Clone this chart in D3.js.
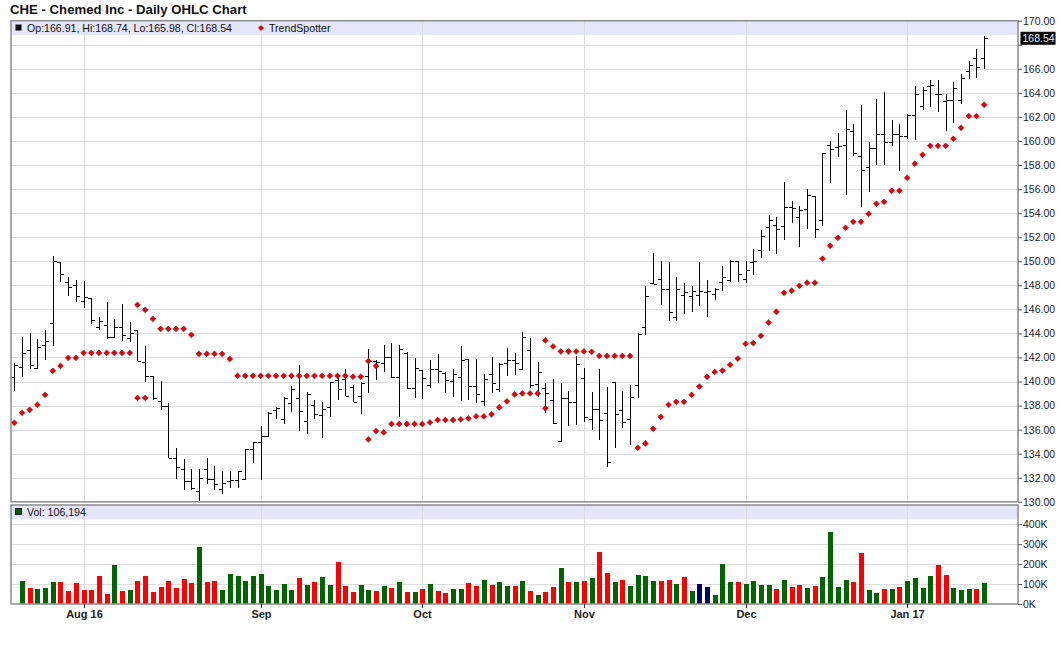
<!DOCTYPE html>
<html>
<head>
<meta charset="utf-8">
<script src="https://cdn.jsdelivr.net/npm/d3@7"></script>
<style>
  body { margin: 0; background: #fff; }
  svg { display: block; font-family: "Liberation Sans", Arial, sans-serif; }
</style>
</head>
<body>
<div id="chart"></div>
<script>
// CHE daily bars, Jul 19 2016 -> Jan 18 2017 (trading day index 0..126)
const opens = [140.39,141.22,142.66,141.14,143.05,144.90,149.97,148.31,148.03,146.73,
146.95,144.57,144.71,143.68,144.57,143.63,144.29,141.63,140.50,138.39,
137.95,133.66,132.74,131.77,130.89,132.74,131.86,131.08,131.72,131.83,
131.91,134.40,134.96,135.51,137.60,136.85,138.18,138.65,136.74,138.04,
137.21,137.91,140.12,140.18,139.51,138.82,140.48,141.70,141.51,142.00,
140.40,142.40,139.43,140.95,139.71,141.01,140.68,140.04,140.34,141.84,
139.62,138.40,140.59,139.35,141.51,141.78,141.01,142.61,139.76,139.43,
138.46,135.05,138.65,138.32,140.26,136.90,137.73,137.40,140.00,137.65,
136.90,139.72,144.57,148.20,148.53,147.70,145.40,147.23,147.15,147.23,
147.48,147.29,148.31,148.48,150.00,148.49,149.93,150.90,152.84,153.03,
152.95,154.53,153.64,154.36,155.39,153.39,159.68,159.51,159.68,160.87,
158.71,157.82,159.43,160.62,159.93,160.54,160.43,162.20,162.87,164.53,
163.92,163.29,163.42,163.42,165.81,166.86,166.91];

const highs = [141.55,143.68,144.04,143.55,144.29,150.47,149.97,148.73,148.45,148.39,
146.95,145.35,146.65,145.21,146.45,144.99,144.29,142.96,140.50,140.08,
138.23,134.49,133.57,132.69,132.74,133.66,132.94,132.55,132.55,132.60,
134.35,135.00,136.34,137.45,137.91,138.74,139.62,141.37,139.10,138.46,
138.32,139.93,140.40,141.01,139.71,139.93,142.70,141.78,143.03,143.17,
143.03,142.48,141.98,140.95,141.78,142.28,140.81,141.01,142.95,141.84,
141.84,140.62,142.06,141.56,142.75,142.34,144.11,143.58,141.65,139.84,
140.18,139.84,139.24,142.12,141.11,139.11,141.00,139.53,140.00,139.20,
139.75,144.02,147.98,150.72,150.00,149.97,148.67,148.20,147.92,149.97,
148.45,147.76,149.64,150.14,150.00,149.98,151.04,152.56,153.86,153.64,
156.55,155.05,154.61,155.97,155.39,159.04,159.96,160.70,162.61,161.37,
162.95,159.90,163.45,164.11,161.78,161.40,162.28,164.61,164.48,165.03,
165.03,163.92,164.89,165.53,166.64,167.61,168.74];

const lows = [139.25,140.36,141.05,141.14,141.75,142.96,148.25,147.09,146.59,146.09,
144.79,144.29,143.55,143.68,143.41,143.27,141.69,139.94,138.48,137.65,
133.66,131.86,131.00,131.00,130.06,131.44,131.00,130.67,131.16,131.16,
131.91,133.21,131.83,135.37,136.85,136.44,137.43,135.88,135.63,136.85,
135.27,137.07,138.46,138.82,138.27,137.27,139.02,140.12,140.81,140.26,
137.07,139.35,138.60,138.54,139.43,139.90,139.07,138.74,138.40,138.46,
138.24,137.96,139.07,139.15,140.45,140.54,141.01,139.43,138.74,137.35,
136.44,135.00,136.33,136.38,136.62,135.93,135.10,132.88,134.46,136.15,
134.76,138.61,143.88,148.12,146.37,145.07,145.01,145.62,145.76,146.32,
145.35,146.81,147.51,148.25,148.25,148.20,148.82,150.26,150.84,150.59,
151.76,153.17,151.17,152.64,151.95,152.97,156.49,158.65,155.50,158.79,
154.50,155.77,158.02,158.02,159.60,157.52,160.20,160.04,162.59,162.81,
162.40,160.80,161.48,163.10,165.19,165.25,165.98];

const closes = [141.41,142.38,141.39,142.91,143.35,150.06,148.95,147.89,147.15,147.06,
145.15,145.07,143.68,144.57,143.88,144.07,141.69,140.50,138.67,137.95,
133.66,132.91,131.77,131.16,132.00,131.86,131.44,131.58,131.83,132.52,
134.35,134.96,135.51,137.37,137.80,138.60,139.40,137.55,138.93,137.30,
137.71,139.93,139.37,138.82,138.30,139.84,141.70,141.59,142.00,140.40,
142.70,139.43,141.09,140.26,141.01,140.90,140.12,140.62,141.78,139.65,
138.96,140.18,139.90,141.45,141.78,141.50,143.72,139.71,140.76,139.07,
136.52,138.65,138.32,141.45,137.07,137.73,136.81,133.35,137.26,136.62,
138.75,143.91,147.15,148.12,147.70,145.82,147.70,147.48,147.55,147.55,
147.55,147.70,148.67,150.00,148.95,149.30,149.98,152.06,153.47,152.70,
154.53,154.40,154.30,155.47,152.64,159.04,159.30,159.60,161.01,159.04,
157.60,159.43,160.62,159.93,160.54,160.43,162.17,163.92,164.25,164.67,
163.92,163.42,164.42,165.25,166.28,166.14,168.54];

// volume in thousands (first day has no bar)
const volumesK = [null,115,80,75,80,110,110,65,105,70,
70,140,50,195,65,70,115,140,60,85,
115,80,125,105,285,110,115,70,150,140,
115,140,150,90,70,100,70,130,95,110,
135,95,210,90,60,95,70,65,90,80,
110,60,60,75,100,65,55,75,75,105,
90,120,95,110,90,90,115,65,45,60,
85,180,110,110,115,130,261,155,110,120,
90,145,140,115,115,120,100,135,65,100,
85,45,200,110,110,100,115,95,95,75,
120,85,95,80,90,135,361,85,120,110,
256,70,55,75,75,85,115,130,80,140,
195,145,80,70,75,75,106.194];

// TrendSpotter dots: below price and above price
const trendLower = [136.57,137.40,137.65,138.06,138.89,140.89,141.30,141.97,141.97,142.38,
142.38,142.38,142.38,142.38,142.38,142.38,138.64,138.64,null,null,
null,null,null,null,null,null,null,null,null,null,
null,null,null,null,null,null,null,null,null,null,
null,null,null,null,null,null,135.19,135.88,135.77,136.47,
136.47,136.47,136.47,136.47,136.60,136.80,136.80,136.80,136.85,136.94,
137.10,137.10,137.27,137.85,138.35,138.93,139.01,139.01,139.01,137.77,
null,null,null,null,null,null,null,null,null,null,
null,134.49,134.85,136.07,137.06,138.06,138.31,138.31,138.89,139.58,
140.39,140.80,140.91,141.39,141.91,143.13,143.20,143.80,144.90,145.80,
147.38,147.55,147.96,148.21,148.21,150.21,151.29,151.95,152.78,153.28,
153.28,153.94,154.78,154.94,155.86,155.86,156.94,158.11,158.85,159.60,
159.60,159.60,160.18,161.10,162.07,162.07,163.01];

const trendUpper = [null,null,null,null,null,null,null,null,null,null,
null,null,null,null,null,null,146.37,145.96,145.21,144.38,
144.38,144.38,144.38,143.88,142.30,142.30,142.30,142.30,141.88,140.47,
140.47,140.47,140.47,140.47,140.47,140.47,140.47,140.47,140.47,140.47,
140.47,140.47,140.47,140.47,140.40,140.40,141.70,141.29,null,null,
null,null,null,null,null,null,null,null,null,null,
null,null,null,null,null,null,null,null,null,143.42,
142.92,142.50,142.50,142.50,142.50,142.47,142.13,142.13,142.13,142.13,
142.13,null,null,null,null,null,null,null,null,null,
null,null,null,null,null,null,null,null,null,null,
null,null,null,null,null,null,null,null,null,null,
null,null,null,null,null,null,null,null,null,null,
null,null,null,null,null,null,null];

const monthTickIdx = [9, 32, 53, 74, 95, 116];
const monthLabels = ["Aug 16", "Sep", "Oct", "Nov", "Dec", "Jan 17"];
const priceTicks = d3.range(130, 171, 2);
const volTicksK = [0, 100, 200, 300, 400];

const width = 1060, height = 645;
const plotLeft = 11, plotRight = 1018;
const priceTop = 20.7, priceBottom = 501.8;
const volTop = 505, volBottom = 604;
const bandH = 14.3;

const svg = d3.select("#chart").append("svg")
    .attr("width", width)
    .attr("height", height);

const x = d3.scaleLinear().domain([-0.43, 130.4]).range([plotLeft, plotRight]);
const y = d3.scaleLinear().domain([130, 170]).range([priceBottom, priceTop]);
const yVol = d3.scaleLinear().domain([0, 400]).range([volBottom, 524.3]);
const px = i => Math.round(x(i)) + 0.5;

// title
svg.append("text")
    .attr("x", 10)
    .attr("y", 13.5)
    .style("font-size", "13.2px")
    .style("font-weight", "bold")
    .style("fill", "#111")
    .text("CHE - Chemed Inc - Daily OHLC Chart");

// legend bands
[priceTop, volTop].forEach(t => {
    svg.append("rect")
        .attr("x", plotLeft).attr("y", t)
        .attr("width", plotRight - plotLeft).attr("height", bandH)
        .attr("fill", "#e6e6fa");
});

// grid
const grid = svg.append("g")
    .attr("stroke", "#dcdcdc")
    .attr("stroke-width", 1)
    .attr("shape-rendering", "crispEdges");

priceTicks.filter(d => d > 130 && d < 170).forEach(d => {
    grid.append("line")
        .attr("x1", plotLeft).attr("x2", plotRight)
        .attr("y1", Math.round(y(d)) + 0.5).attr("y2", Math.round(y(d)) + 0.5);
});
volTicksK.filter(d => d > 0).forEach(d => {
    grid.append("line")
        .attr("x1", plotLeft).attr("x2", plotRight)
        .attr("y1", Math.round(yVol(d)) + 0.5).attr("y2", Math.round(yVol(d)) + 0.5);
});
monthTickIdx.forEach(i => {
    grid.append("line").attr("x1", px(i)).attr("x2", px(i))
        .attr("y1", priceTop).attr("y2", priceBottom);
    grid.append("line").attr("x1", px(i)).attr("x2", px(i))
        .attr("y1", volTop).attr("y2", volBottom);
});

// volume bars, coloured by the day's close against the previous close
const volColor = i => {
    if (i === 0) return "#006400";
    if (closes[i] > closes[i - 1]) return "#006400";
    if (closes[i] < closes[i - 1]) return "#ff0000";
    return "#000066";
};
svg.append("g")
    .attr("shape-rendering", "crispEdges")
    .selectAll("rect")
    .data(volumesK.map((v, i) => ({ v, i })).filter(d => d.v != null))
    .join("rect")
    .attr("x", d => Math.round(x(d.i)) - 2)
    .attr("y", d => yVol(d.v))
    .attr("width", 5)
    .attr("height", d => volBottom - yVol(d.v))
    .attr("fill", d => volColor(d.i));

// OHLC bars
svg.append("g")
    .attr("stroke", "#000")
    .attr("stroke-width", 1)
    .attr("fill", "none")
    .attr("shape-rendering", "crispEdges")
    .selectAll("path")
    .data(d3.range(opens.length))
    .join("path")
    .attr("d", i => {
        const xi = px(i);
        return `M${xi},${y(highs[i])}V${y(lows[i])}` +
            `M${xi - 3.5},${Math.round(y(opens[i])) + 0.5}H${xi}` +
            `M${xi},${Math.round(y(closes[i])) + 0.5}H${xi + 3.5}`;
    });

// TrendSpotter diamonds
const diamond = (cx, cy, r) => `M${cx},${cy - r}L${cx + r},${cy}L${cx},${cy + r}L${cx - r},${cy}Z`;
const trendPts = [];
trendLower.forEach((v, i) => { if (v != null) trendPts.push([i, v]); });
trendUpper.forEach((v, i) => { if (v != null) trendPts.push([i, v]); });
svg.append("g")
    .selectAll("path")
    .data(trendPts)
    .join("path")
    .attr("d", d => diamond(x(d[0]), y(d[1]), 2.9))
    .attr("fill", "#e8000b")
    .attr("stroke", "#9b0000")
    .attr("stroke-width", 0.6);

// panel borders
[[priceTop, priceBottom], [volTop, volBottom]].forEach(([t, b]) => {
    svg.append("rect")
        .attr("x", plotLeft).attr("y", t)
        .attr("width", plotRight - plotLeft).attr("height", b - t)
        .attr("fill", "none")
        .attr("stroke", "#8c8c8c")
        .attr("stroke-width", 1.5);
});

// right axes
const lastClose = closes[closes.length - 1];
const priceAxis = svg.append("g")
    .attr("transform", `translate(${plotRight},0)`)
    .call(d3.axisRight(y).tickValues(priceTicks).tickFormat(d3.format(".2f")).tickSize(4).tickPadding(1));
priceAxis.select(".domain").remove();
priceAxis.selectAll("text")
    .style("font-size", "10.5px")
    .style("fill", "#222")
    .style("font-family", "Liberation Sans, Arial, sans-serif")
    .filter(d => Math.abs(y(d) - y(lastClose)) < 11)
    .remove();
priceAxis.selectAll("line").attr("stroke", "#555");

const volAxis = svg.append("g")
    .attr("transform", `translate(${plotRight},0)`)
    .call(d3.axisRight(yVol).tickValues(volTicksK).tickFormat(d => d + "K").tickSize(4).tickPadding(1));
volAxis.select(".domain").remove();
volAxis.selectAll("text")
    .style("font-size", "10.5px")
    .style("fill", "#222")
    .style("font-family", "Liberation Sans, Arial, sans-serif");
volAxis.selectAll("line").attr("stroke", "#555");

// last price box
svg.append("rect")
    .attr("x", 1020.5).attr("y", y(lastClose) - 6.5)
    .attr("width", 35).attr("height", 13)
    .attr("fill", "#000");
svg.append("text")
    .attr("x", 1022.5).attr("y", y(lastClose) + 4)
    .style("font-size", "10.5px")
    .style("fill", "#e6f2ff")
    .text(d3.format(".2f")(lastClose));

// bottom axis (month starts)
const xAxis = svg.append("g")
    .attr("transform", `translate(0,${volBottom})`)
    .call(d3.axisBottom(x).tickValues(monthTickIdx)
        .tickFormat((d, k) => monthLabels[k]).tickSize(4).tickPadding(2));
xAxis.select(".domain").remove();
xAxis.selectAll(".tick").attr("transform", d => `translate(${px(d)},0)`);
xAxis.selectAll("line").attr("stroke", "#333");
xAxis.selectAll("text")
    .style("font-size", "11px")
    .style("font-weight", "bold")
    .style("fill", "#222")
    .style("font-family", "Liberation Sans, Arial, sans-serif");

// price legend
const last = opens.length - 1;
svg.append("rect")
    .attr("x", 15.5).attr("y", 24.5).attr("width", 6).attr("height", 6)
    .attr("fill", "#000");
svg.append("text")
    .attr("x", 27).attr("y", 31.6)
    .style("font-size", "10.6px")
    .style("fill", "#111")
    .text(`Op:${opens[last].toFixed(2)}, Hi:${highs[last].toFixed(2)}, Lo:${lows[last].toFixed(2)}, Cl:${closes[last].toFixed(2)}`);
svg.append("path")
    .attr("d", diamond(261, 28, 2.6))
    .attr("fill", "#e8000b")
    .attr("stroke", "#9b0000")
    .attr("stroke-width", 0.6);
svg.append("text")
    .attr("x", 269).attr("y", 31.6)
    .style("font-size", "10.6px")
    .style("fill", "#111")
    .text("TrendSpotter");

// volume legend
svg.append("rect")
    .attr("x", 15.5).attr("y", 508.5).attr("width", 6).attr("height", 6)
    .attr("fill", "#006400")
    .attr("stroke", "#000")
    .attr("stroke-width", 0.8);
svg.append("text")
    .attr("x", 27).attr("y", 515.6)
    .style("font-size", "10.6px")
    .style("fill", "#111")
    .text("Vol: " + d3.format(",")(Math.round(volumesK[last] * 1000)));
</script>
</body>
</html>
